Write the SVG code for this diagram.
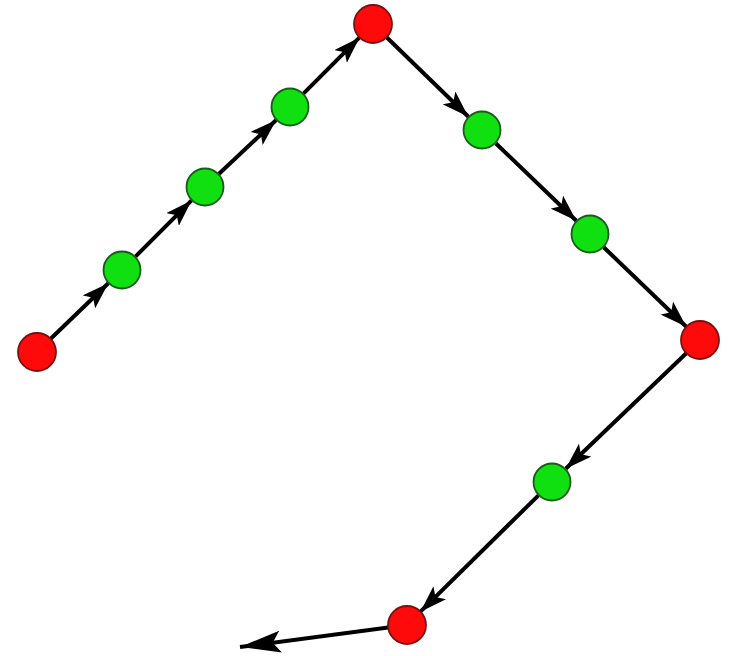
<svg xmlns="http://www.w3.org/2000/svg" width="730" height="656" viewBox="0 0 730 656">
<style>
.edge{stroke:#000;stroke-width:4;fill:none;marker-end:url(#ah)}
.red{fill:#ff0a0a;stroke:#7a1010;stroke-width:1.8}
.green{fill:#10e010;stroke:#1a5a1a;stroke-width:1.8}
</style>
<defs>
<marker id="ah" markerUnits="userSpaceOnUse" viewBox="0 0 28 18" refX="27" refY="9" markerWidth="28" markerHeight="18" orient="auto">
<path d="M27,9 L0,0 L6,9 L0,18 z" fill="#000"/>
</marker>
<marker id="ahb" markerUnits="userSpaceOnUse" viewBox="0 0 42 22" refX="41" refY="11" markerWidth="42" markerHeight="22" orient="auto">
<path d="M41,11 L0,0 L8,11 L0,22 z" fill="#000"/>
</marker>
</defs>
<rect width="730" height="656" fill="#fff"/>
<g id="connectors">
<line class="edge" x1="50.7" y1="338.8" x2="108.3" y2="283.2"/>
<line class="edge" x1="135.4" y1="256.6" x2="191.6" y2="200.4"/>
<line class="edge" x1="218.8" y1="174" x2="276.2" y2="120"/>
<line class="edge" x1="303.4" y1="93.6" x2="359.6" y2="37.4"/>
<line class="edge" x1="386.6" y1="37.2" x2="468.4" y2="116.8"/>
<line class="edge" x1="495.7" y1="143.2" x2="576.3" y2="220.8"/>
<line class="edge" x1="603.7" y1="247.2" x2="686.3" y2="326.8"/>
<line class="edge" x1="686.3" y1="353.2" x2="565.7" y2="468.8"/>
<line class="edge" x1="538.5" y1="495.3" x2="420.5" y2="611.7"/>
<line class="edge" style="marker-end:url(#ahb)" x1="388.2" y1="627.5" x2="240" y2="647"/>
</g>
<g id="r1"><circle class="red" cx="37" cy="352" r="19"/></g>
<g id="g1"><circle class="green" cx="122" cy="270" r="18.5"/></g>
<g id="g2"><circle class="green" cx="205" cy="187" r="18.5"/></g>
<g id="g3"><circle class="green" cx="290" cy="107" r="18.5"/></g>
<g id="r2"><circle class="red" cx="373" cy="24" r="19"/></g>
<g id="g4"><circle class="green" cx="482" cy="130" r="18.5"/></g>
<g id="g5"><circle class="green" cx="590" cy="234" r="18.5"/></g>
<g id="r3"><circle class="red" cx="700" cy="340" r="19"/></g>
<g id="g6"><circle class="green" cx="552" cy="482" r="18.5"/></g>
<g id="r4"><circle class="red" cx="407" cy="625" r="19"/></g>
</svg>
